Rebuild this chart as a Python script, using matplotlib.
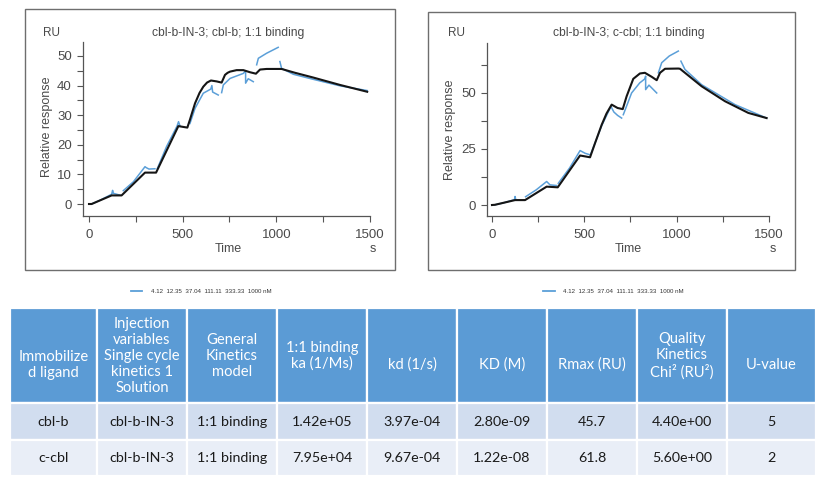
import matplotlib
matplotlib.use("Agg")
import matplotlib.pyplot as plt
from matplotlib.patches import Rectangle

# ---------------- data ----------------
left_title = "cbl-b-IN-3; cbl-b; 1:1 binding"
right_title = "cbl-b-IN-3; c-cbl; 1:1 binding"

left_fit_t = [0, 14, 121, 174, 299, 358, 477, 525, 539, 566, 590, 610, 630, 651, 681, 708, 726,
              740, 753, 788, 824, 859, 891, 913, 948, 1028, 1100, 1197, 1340, 1485]
left_fit_v = [0, 0, 2.9, 2.9, 10.6, 10.6, 26.3, 25.8, 28.5, 34.0, 37.5, 39.6, 41.0, 41.7, 41.4,
              41.0, 43.6, 44.3, 44.7, 45.2, 45.2, 44.5, 44.0, 45.4, 45.6, 45.6, 44.3, 42.7, 40.2, 37.9]

left_obs = [
    ([14, 60, 121, 126, 130, 165], [0, 1.3, 3.3, 4.6, 3.6, 3.0]),
    ([183, 237, 299, 305, 320, 352], [4.5, 7.5, 12.6, 12.3, 11.8, 11.9]),
    ([365, 414, 470, 478, 486], [12.0, 19.4, 26.3, 27.8, 26.3]),
    ([539, 566, 610, 650, 656, 660, 690], [27.2, 32.3, 37.4, 38.8, 40.0, 37.8, 36.8]),
    ([708, 717, 753, 824, 836, 836, 850, 877], [37.6, 40.2, 42.4, 44.1, 45.0, 40.8, 42.3, 41.3]),
    ([895, 904, 948, 1010], [47.0, 49.2, 50.9, 52.9]),
    ([1019, 1028, 1091, 1197, 1340, 1485], [48.1, 45.8, 43.8, 42.1, 39.9, 38.3]),
]

right_fit_t = [0, 16, 125, 179, 296, 356, 477, 531, 558, 594, 620, 648, 680, 708, 729, 765, 801,
               828, 865, 892, 910, 937, 1009, 1018, 1135, 1262, 1388, 1487]
right_fit_v = [0, 0.1, 2.2, 2.2, 8.2, 7.9, 22.1, 21.3, 27.6, 35.8, 40.8, 44.8, 43.3, 42.8, 48.5,
               56.3, 58.7, 59.0, 57.2, 55.7, 59.0, 60.8, 60.9, 60.8, 53.0, 46.3, 41.1, 38.8]

right_obs = [
    ([16, 60, 122, 125, 128], [0.1, 0.9, 2.4, 3.8, 2.6]),
    ([182, 240, 296, 314, 350], [3.7, 6.8, 10.5, 9.0, 8.7]),
    ([359, 420, 477, 504, 531], [9.7, 16.5, 24.3, 23.1, 22.4]),
    ([536, 594, 644, 660, 680, 702], [23.0, 35.4, 44.0, 41.5, 40.0, 38.8]),
    ([711, 756, 800, 828, 832, 832, 850, 892], [40.3, 50.0, 54.5, 56.3, 57.5, 51.5, 53.5, 50.0]),
    ([901, 919, 960, 1009], [59.0, 63.5, 66.5, 68.7]),
    ([1023, 1045, 1135, 1316, 1487], [64.2, 60.5, 53.7, 44.8, 38.8]),
]

legend_text = "4.12  12.35  37.04  111.11  333.33  1000 nM"

table_header = ["Immobilize\nd ligand", "Injection\nvariables\nSingle cycle\nkinetics 1\nSolution",
                "General\nKinetics\nmodel", "1:1 binding\nka (1/Ms)", "kd (1/s)", "KD (M)",
                "Rmax (RU)", "Quality\nKinetics\nChi² (RU²)", "U-value"]
table_rows = [
    ["cbl-b", "cbl-b-IN-3", "1:1 binding", "1.42e+05", "3.97e-04", "2.80e-09", "45.7", "4.40e+00", "5"],
    ["c-cbl", "cbl-b-IN-3", "1:1 binding", "7.95e+04", "9.67e-04", "1.22e-08", "61.8", "5.60e+00", "2"],
]

# ---------------- layout ----------------
W, H = 823, 483
fig = plt.figure(figsize=(W / 100, H / 100), dpi=100)
plt.rcParams['font.family'] = ['Liberation Sans', 'DejaVu Sans']

BLUE = '#5b9fd8'
TXT = '#4a4a4a'


def add_ax(l, t, r, b):
    return fig.add_axes([l / W, 1 - b / H, (r - l) / W, (b - t) / H])


def ftext(x, y, s, **kw):
    fig.text(x / W, 1 - y / H, s, **kw)


def frame(l, t, r, b):
    fig.patches.append(Rectangle((l / W, 1 - b / H), (r - l) / W, (b - t) / H,
                                 transform=fig.transFigure, fill=False,
                                 edgecolor='#6e6e6e', lw=1.0))


def style_ax(ax, xlim, ylim, ymaj, ymin):
    ax.set_xlim(*xlim)
    ax.set_ylim(*ylim)
    for s in ['top', 'right']:
        ax.spines[s].set_visible(False)
    for s in ['left', 'bottom']:
        ax.spines[s].set_color('#555555')
        ax.spines[s].set_linewidth(0.9)
    ax.set_xticks([0, 500, 1000, 1500])
    ax.set_xticks([250, 750, 1250], minor=True)
    ax.set_yticks(ymaj)
    ax.set_yticks(ymin, minor=True)
    ax.tick_params(which='both', length=4, width=0.8, color='#555555',
                   labelcolor=TXT, labelsize=9.5)
    ax.tick_params(axis='x', pad=5)
    ax.tick_params(axis='y', pad=4)
    ax.patch.set_alpha(0)


def draw_panel(ax, fit_t, fit_v, obs):
    for t, v in obs:
        ax.plot(t, v, color=BLUE, lw=1.1, zorder=2)
    ax.plot(fit_t, fit_v, color='#151515', lw=1.5, zorder=3)


# left panel
frame(25, 9, 395, 270)
axL = add_ax(83, 42, 370, 216)
style_ax(axL, (-32, 1500), (-4.05, 54.7), [0, 10, 20, 30, 40, 50],
         [5, 15, 25, 35, 45])
draw_panel(axL, left_fit_t, left_fit_v, left_obs)
ftext(43, 33, "RU", fontsize=8.5, color=TXT, va='center', ha='left')
ftext(228, 33, left_title, fontsize=8.7, color=TXT, va='center', ha='center')
ftext(228, 249, "Time", fontsize=9, color=TXT, va='center', ha='center')
ftext(373, 249, "s", fontsize=9, color=TXT, va='center', ha='center')
ftext(47, 127, "Relative response", fontsize=9, color=TXT, va='center', ha='center',
      rotation=90)

# right panel
frame(428, 12, 795, 270)
axR = add_ax(487, 43, 769, 216)
style_ax(axR, (-27, 1500), (-4.9, 72.3), [0, 25, 50], [12.5, 37.5, 62.5])
draw_panel(axR, right_fit_t, right_fit_v, right_obs)
ftext(448, 33, "RU", fontsize=8.5, color=TXT, va='center', ha='left')
ftext(629, 33, right_title, fontsize=8.7, color=TXT, va='center', ha='center')
ftext(628, 249, "Time", fontsize=9, color=TXT, va='center', ha='center')
ftext(773, 249, "s", fontsize=9, color=TXT, va='center', ha='center')
ftext(450, 130, "Relative response", fontsize=9, color=TXT, va='center', ha='center',
      rotation=90)

# legends
for lx0, lx1, tx in [(131, 142, 151), (543, 555, 563)]:
    fig.add_artist(plt.Line2D([lx0 / W, lx1 / W], [1 - 291 / H, 1 - 291 / H],
                              transform=fig.transFigure, color=BLUE, lw=1.3))
    ftext(tx, 291.5, legend_text, fontsize=4.4, color='#333333', va='center', ha='left')

# ---------------- table ----------------
col_edges = [10, 97, 187, 277, 367, 457, 547, 637, 727, 816]
row_edges = [308, 403, 440, 476]
row_colors = ['#5b9bd5', '#d1ddef', '#e9eef7']
header_y = [365, 356, 356, 356, 365, 365, 365, 356, 365]
TF = ['Lato', 'DejaVu Sans']

for r in range(3):
    for c in range(9):
        l, rr = col_edges[c], col_edges[c + 1]
        t, b = row_edges[r], row_edges[r + 1]
        fig.patches.append(Rectangle((l / W, 1 - b / H), (rr - l) / W, (b - t) / H,
                                     transform=fig.transFigure, facecolor=row_colors[r],
                                     edgecolor='white', lw=1.6))
        cx = (l + rr) / 2
        if r == 0:
            ftext(cx, header_y[c], table_header[c], fontsize=10.6, color='white',
                  ha='center', va='center', family=TF, linespacing=1.18,
                  multialignment='center')
        else:
            cy = (t + b) / 2
            ftext(cx, cy, table_rows[r - 1][c], fontsize=10.3, color='#1a1a1a',
                  ha='center', va='center', family=TF)

fig.savefig("out.png", dpi=100, facecolor='white')
